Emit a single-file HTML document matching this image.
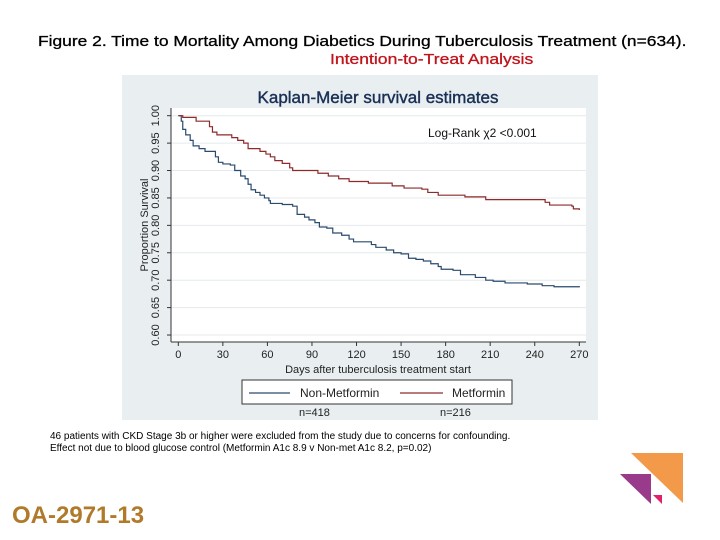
<!DOCTYPE html>
<html><head><meta charset="utf-8">
<style>
body{margin:0;width:720px;height:540px;background:#fff;position:relative;overflow:hidden;font-family:"Liberation Sans",sans-serif}
.t{position:absolute;white-space:nowrap}
</style></head><body>
<div class="t" style="left:38px;top:33px;font-size:15px;color:#000;transform:scaleX(1.16);transform-origin:left;-webkit-text-stroke:0.3px #000">Figure 2. Time to Mortality Among Diabetics During Tuberculosis Treatment (n=634).</div>
<div class="t" style="left:330px;top:51px;font-size:15px;color:#c0141c;transform:scaleX(1.17);transform-origin:left;-webkit-text-stroke:0.3px #c0141c">Intention-to-Treat Analysis</div>
<svg id="chart" style="position:absolute;left:0;top:0" width="720" height="540"></svg>
<div class="t" style="left:50px;top:431px;font-size:10px;color:#000">46 patients with CKD Stage 3b or higher were excluded from the study due to concerns for confounding.</div>
<div class="t" style="left:50px;top:443px;font-size:10px;color:#000">Effect not due to blood glucose control (Metformin A1c 8.9 v Non-met A1c 8.2, p=0.02)</div>
<div class="t" style="left:12px;top:502px;font-size:24px;font-weight:bold;color:#b07a2a">OA-2971-13</div>
<svg style="position:absolute;left:590px;top:440px" width="110" height="90">
<polygon points="41,13 93,13 93,63" fill="#f39a4a"/>
<polygon points="30,34 61,34 61,64" fill="#9a3a8a"/>
<polygon points="63,55 72,55 72,64" fill="#e0206a"/>
</svg>
<script>
const ticksY=[0.60,0.65,0.70,0.75,0.80,0.85,0.90,0.95,1.00];
const ticksX=[0,30,60,90,120,150,180,210,240,270];
const nonMetDays=[0,2,3,5,8,10,14,18,25,27,30,35,38,42,45,47,49,52,55,58,61,62,70,77,80,85,88,92,95,100,104,110,115,118,130,133,140,145,150,155,160,165,170,175,177,185,190,200,207,212,220,235,245,253,270];
const nonMetSurv=[1.0,0.99,0.975,0.965,0.955,0.945,0.94,0.935,0.925,0.915,0.912,0.91,0.9,0.89,0.885,0.875,0.865,0.86,0.855,0.85,0.845,0.84,0.838,0.835,0.82,0.815,0.81,0.805,0.797,0.795,0.786,0.782,0.775,0.77,0.765,0.76,0.755,0.75,0.748,0.74,0.738,0.735,0.73,0.725,0.72,0.718,0.71,0.705,0.7,0.698,0.695,0.693,0.69,0.688,0.687];
const metDays=[0,3,12,21,23,26,36,40,44,47,55,59,62,65,70,75,77,94,101,108,115,128,144,152,164,168,175,193,207,247,250,265,266,270];
const metSurv=[1.0,0.997,0.99,0.98,0.97,0.965,0.96,0.955,0.95,0.94,0.935,0.93,0.925,0.918,0.913,0.905,0.9,0.895,0.89,0.885,0.88,0.877,0.872,0.868,0.866,0.86,0.855,0.852,0.847,0.842,0.837,0.835,0.83,0.828];
const NS='http://www.w3.org/2000/svg';
const svg=document.getElementById('chart');
const X=d=>178.3+d*(401/270);
const Y=v=>115.7+(1-v)*548.3;
function mk(tag,attrs,parent){const e=document.createElementNS(NS,tag);for(const k in attrs)e.setAttribute(k,attrs[k]);(parent||svg).appendChild(e);return e;}
let bg=mk('rect',{x:122,y:75,width:476,height:345,fill:'#e9eff1'});


let pa=mk('rect',{x:171,y:108,width:415,height:234,fill:'#fff'});


let t=mk('text',{x:378,y:103,'text-anchor':'middle','font-size':17,fill:'#1a2f55','stroke':'#1a2f55','stroke-width':0.4,'font-family':'Liberation Sans'});t.textContent='Kaplan-Meier survival estimates';


ticksY.forEach(v=>{
  let g=mk('line',{x1:171,x2:586,y1:Y(v),y2:Y(v),stroke:'#e4eaee','stroke-width':1});
  
  
  mk('line',{x1:167,x2:171,y1:Y(v),y2:Y(v),stroke:'#333'});
  let l=mk('text',{x:0,y:0,transform:`translate(159,${Y(v)}) rotate(-90)`,'text-anchor':'middle','font-size':11,fill:'#222','font-family':'Liberation Sans'});l.textContent=v.toFixed(2);
  
  
});
ticksX.forEach(d=>{
  mk('line',{x1:X(d),x2:X(d),y1:342,y2:346,stroke:'#333'});
  let l=mk('text',{x:X(d),y:358,'text-anchor':'middle','font-size':11,fill:'#222','font-family':'Liberation Sans'});l.textContent=d;
  
  
});
mk('line',{x1:171,x2:171,y1:108,y2:342,stroke:'#333'});
mk('line',{x1:171,x2:586,y1:342,y2:342,stroke:'#333'});
let xt=mk('text',{x:378,y:373,'text-anchor':'middle','font-size':11,fill:'#222','font-family':'Liberation Sans'});xt.textContent='Days after tuberculosis treatment start';


let yt=mk('text',{x:0,y:0,transform:'translate(148,225) rotate(-90)','text-anchor':'middle','font-size':11,fill:'#222','font-family':'Liberation Sans'});yt.textContent='Proportion Survival';


let lr=mk('text',{x:428,y:137,'font-size':12,fill:'#111','font-family':'Liberation Sans'});lr.textContent='Log-Rank χ2 <0.001';


function stepPath(days,surv){let d=`M${X(days[0])},${Y(surv[0])}`;for(let i=1;i<days.length;i++){d+=`H${X(days[i])}V${Y(surv[i])}`;}return d;}
let p1=mk('path',{d:stepPath(nonMetDays,nonMetSurv),fill:'none',stroke:'#2a4a6e','stroke-width':1.2});


let p2=mk('path',{d:stepPath(metDays,metSurv),fill:'none',stroke:'#8e2a2a','stroke-width':1.2});


let lg=mk('rect',{x:242,y:380,width:270,height:24,fill:'#fff',stroke:'#333'});


mk('line',{x1:249,x2:290,y1:393,y2:393,stroke:'#2a4a6e','stroke-width':1.2});
let l1=mk('text',{x:300,y:397,'font-size':12,fill:'#222','font-family':'Liberation Sans'});l1.textContent='Non-Metformin';


mk('line',{x1:400,x2:443,y1:393,y2:393,stroke:'#8e2a2a','stroke-width':1.2});
let l2=mk('text',{x:452,y:397,'font-size':12,fill:'#222','font-family':'Liberation Sans'});l2.textContent='Metformin';


let n1=mk('text',{x:299,y:416,'font-size':11,fill:'#222','font-family':'Liberation Sans'});n1.textContent='n=418';


let n2=mk('text',{x:440,y:416,'font-size':11,fill:'#222','font-family':'Liberation Sans'});n2.textContent='n=216';


</script>
</body></html>
